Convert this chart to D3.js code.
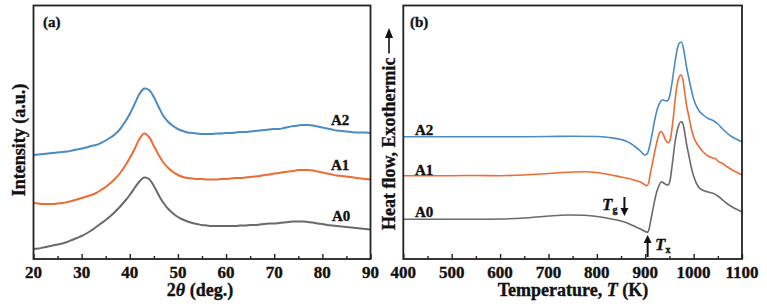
<!DOCTYPE html>
<html><head><meta charset="utf-8">
<script src="https://cdn.jsdelivr.net/npm/d3@7/dist/d3.min.js"></script>
<style>
body{margin:0;background:#fff;}
svg text{font-family:"Liberation Serif","Times New Roman",serif;font-weight:bold;fill:#111;stroke:#111;stroke-width:0.35px;}
</style></head>
<body><svg id="c" width="767" height="308"></svg>
<script>
// ---- Panel (a): XRD ----
const angles = [20,21,22,23,24,25,26,27,28,29,30,31,32,33,34,35,36,37,38,39,40,41,42,43,44,45,46,47,48,49,50,51,52,53,54,55,56,57,58,59,60,61,62,63,64,65,66,67,68,69,70,71,72,73,74,75,76,77,78,79,80,81,82,83,84,85,86,87,88,89,90];
const xrdA0 = [10,10.5,11.5,12.5,13.5,14.5,15.5,17,19,21,23,25.5,28.5,32,35.5,39,43,47.5,52.5,58,64,71,77.5,81.5,80,73,64,56,50,45.5,42,39.5,37.5,36,35,34,33.5,33,33,33,33,33,33,33.5,33.5,34,34,34.5,35,35.5,35.5,36,36.5,37,37.5,37.5,37.5,37,36.5,35.5,35,34,33.5,33,32.5,32,31.5,31,30.5,30,29.5];
const xrdA1 = [56,55.5,55,55,55,55.5,56,57,58,59.5,61,62.5,64,66,69,72,76,80.5,86,93,101,110,120,125.5,122,113,104,96.5,91,87,84,82,81,80.5,80,80,79.5,79.5,79.5,80,80,80.5,81,81,81.5,82,82.5,83,84,84.5,85.5,86,87,87.5,88,89,89,89,88.5,87.5,86.5,85.5,84.5,83.5,83,82.5,82,81,80.5,80,79.5];
const xrdA2 = [104,104.5,105,105.5,106,106.5,107,107.5,108.5,109.5,110.5,111.5,113,114,116,118.5,121.5,125,130,137,145,155,165,170.5,169,162,152,143,137,133,130,128,126.5,126,125.5,125,125,125,125.5,125.5,126,126,126.5,127,127,127.5,128,128.5,129,129.5,130,130,131,132,133,133.5,134,134,133.5,132.5,131.5,130.5,129.5,128.5,128,127.5,127,126.5,126.5,126.5,126];
const xrdTicks = [20,30,40,50,60,70,80,90];
const xrdMinor = [25,35,45,55,65,75,85];

// ---- Panel (b): DSC ----
const dscT_A2 = [400,450,500,550,600,650,700,750,800,825,850,860,870,880,890,895,900,905,910,915,920,925,930,935,940,945,950,955,960,965,970,975,980,985,990,995,1000,1010,1020,1030,1040,1050,1060,1070,1080,1090,1100];
const dscA2 = [122.3,122.3,122.3,122.3,122.3,122.3,122.5,122.8,122.5,121.5,119.5,118,115.5,112,108,105.5,104,106,115,127,140,150,156,159,158.5,158,162,175,192,207,215.5,217,208,193,181,170,160,149,144,140.5,138.5,135,130,125.5,122,119.5,117];
const dscT_A1 = [400,450,500,550,600,650,700,750,775,800,825,850,860,870,880,890,895,900,903,907,910,915,920,925,930,933,937,940,945,948,952,957,962,967,970,974,978,982,986,990,995,1000,1010,1020,1030,1040,1045,1050,1060,1070,1080,1090,1100];
const dscA1 = [83.3,83.3,83.3,83.5,83.3,84,85.5,87,87.3,86.5,84.5,82,81,80,78.5,77,75.5,74,73.3,76,84,96,108,119,126.5,127.5,125,121,117,116.3,120,137,160,177,182,184,179,165,152,143,131,122,113,107,103,101,100.5,98,95.5,92,89,86.5,84];
const dscT_A0 = [400,450,500,550,600,650,700,740,775,800,825,850,860,875,890,900,904,908,912,917,922,928,934,938,943,947,951,956,962,968,972,976,980,985,990,995,1000,1010,1020,1030,1040,1050,1060,1070,1080,1090,1100];
const dscA0 = [39.7,39.7,39.7,39.7,40,41,43,44,43.7,42.5,40.5,38,36.5,33.3,30,27.5,26.7,30,40,52.3,64,73,77.3,76,74.5,74,78,95,118,132,136.5,137.3,131,116,104,92,83,72,68.5,67,65.7,63,59,55,52,49.5,47.3];
const dscTicks = [400,500,600,700,800,900,1000,1100];
const dscMinor = [450,550,650,750,850,950,1050];

const colors = {A0:"#6a6a6a", A1:"#ef6b33", A2:"#4a8cc2"};

const svg = d3.select("#c");
const yTop = 5.5, yBot = 259;

function panel(x0, x1, domain, ticks, minor){
  const x = d3.scaleLinear().domain(domain).range([x0, x1]);
  const y = d3.scaleLinear().domain([0, yBot - yTop]).range([yBot, yTop]);
  const g = svg.append("g");
  g.append("g").attr("transform",`translate(0,${yBot})`)
    .call(d3.axisBottom(x).tickValues(minor).tickSizeInner(-3).tickSizeOuter(0).tickFormat(""))
    .call(a=>a.select(".domain").remove())
    .call(a=>a.selectAll("line").attr("stroke","#222").attr("stroke-width",1.4));
  g.append("g").attr("transform",`translate(0,${yBot})`)
    .call(d3.axisBottom(x).tickValues(ticks).tickSizeInner(-5).tickSizeOuter(0).tickFormat(""))
    .call(a=>a.select(".domain").remove())
    .call(a=>a.selectAll("line").attr("stroke","#222").attr("stroke-width",1.4));
  g.append("g").selectAll("text").data(ticks).join("text")
    .attr("x", d=>x(d)).attr("y", yBot + 18.5).attr("text-anchor","middle")
    .attr("font-size",17).text(d=>String(d));
  return {x, y, g};
}

// Panel a
const pa = panel(33.5, 370.5, [20, 90], xrdTicks, xrdMinor);
const lineA = (vals)=> d3.line().x((d,i)=>pa.x(angles[i])).y(d=>pa.y(d)).curve(d3.curveCatmullRom)(vals);
[["A0",xrdA0],["A1",xrdA1],["A2",xrdA2]].forEach(([k,v])=>{
  pa.g.append("path").attr("d", lineA(v)).attr("fill","none").attr("stroke",colors[k]).attr("stroke-width",2);
});
pa.g.append("rect").attr("x",33.5).attr("y",yTop).attr("width",337).attr("height",yBot-yTop)
  .attr("fill","none").attr("stroke","#222").attr("stroke-width",1.8);
pa.g.append("text").attr("x",43).attr("y",27).attr("font-size",15).text("(a)");
pa.g.append("text").attr("x",331).attr("y",125).attr("font-size",15).text("A2");
pa.g.append("text").attr("x",331).attr("y",170).attr("font-size",15).text("A1");
pa.g.append("text").attr("x",332).attr("y",221).attr("font-size",15).text("A0");
const xt = pa.g.append("text").attr("x",200).attr("y",296).attr("font-size",18).attr("text-anchor","middle");
xt.append("tspan").text("2");
xt.append("tspan").attr("font-style","italic").text("θ");
xt.append("tspan").text(" (deg.)");
pa.g.append("text").attr("transform","translate(25,140) rotate(-90)").attr("text-anchor","middle")
  .attr("font-size",18).text("Intensity (a.u.)");

// Panel b
const pb = panel(403.3, 742, [400, 1100], dscTicks, dscMinor);
[["A0",dscT_A0,dscA0],["A1",dscT_A1,dscA1],["A2",dscT_A2,dscA2]].forEach(([k,t,v])=>{
  const l = d3.line().x((d,i)=>pb.x(t[i])).y(d=>pb.y(d)).curve(d3.curveMonotoneX);
  pb.g.append("path").attr("d", l(v)).attr("fill","none").attr("stroke",colors[k]).attr("stroke-width",1.6);
});
pb.g.append("rect").attr("x",403.3).attr("y",yTop).attr("width",742-403.3).attr("height",yBot-yTop)
  .attr("fill","none").attr("stroke","#222").attr("stroke-width",1.8);
pb.g.append("text").attr("x",410).attr("y",27).attr("font-size",15).text("(b)");
pb.g.append("text").attr("x",415).attr("y",135).attr("font-size",15).text("A2");
pb.g.append("text").attr("x",415).attr("y",175).attr("font-size",15).text("A1");
pb.g.append("text").attr("x",415).attr("y",217).attr("font-size",15).text("A0");
const tt = pb.g.append("text").attr("x",573).attr("y",296).attr("font-size",18).attr("text-anchor","middle");
tt.append("tspan").text("Temperature, ");
tt.append("tspan").attr("font-style","italic").text("T");
tt.append("tspan").text(" (K)");

// Tg and Tx annotations
const tg = pb.g.append("text").attr("x",602).attr("y",210).attr("font-size",17);
tg.append("tspan").attr("font-style","italic").text("T");
tg.append("tspan").attr("font-size",10).attr("dy",3).text("g");
const tx = pb.g.append("text").attr("x",655).attr("y",250).attr("font-size",17);
tx.append("tspan").attr("font-style","italic").text("T");
tx.append("tspan").attr("font-size",10).attr("dy",3).text("x");

function arrow(xc, yFrom, yTo){
  const dir = yTo > yFrom ? 1 : -1;
  pb.g.append("line").attr("x1",xc).attr("x2",xc).attr("y1",yFrom).attr("y2",yTo - dir*7)
    .attr("stroke","#111").attr("stroke-width",2);
  pb.g.append("path").attr("d",`M${xc-4},${yTo-dir*8}L${xc+4},${yTo-dir*8}L${xc},${yTo}Z`).attr("fill","#111");
}
arrow(pb.x(857), 197, 216);
arrow(pb.x(905), 257, 235);

// Heat flow label with arrow
const hg = pb.g.append("g").attr("transform","translate(395,230) rotate(-90)");
const ht = hg.append("text").attr("x",0).attr("y",0).attr("font-size",18).text("Heat flow, Exothermic");
const len = ht.node().getComputedTextLength();
hg.append("line").attr("x1",len+4).attr("x2",195).attr("y1",-6).attr("y2",-6).attr("stroke","#111").attr("stroke-width",1.6);
hg.append("path").attr("d",`M${192},${-10}L${192},${-2}L${202},${-6}Z`).attr("fill","#111");
</script></body></html>
